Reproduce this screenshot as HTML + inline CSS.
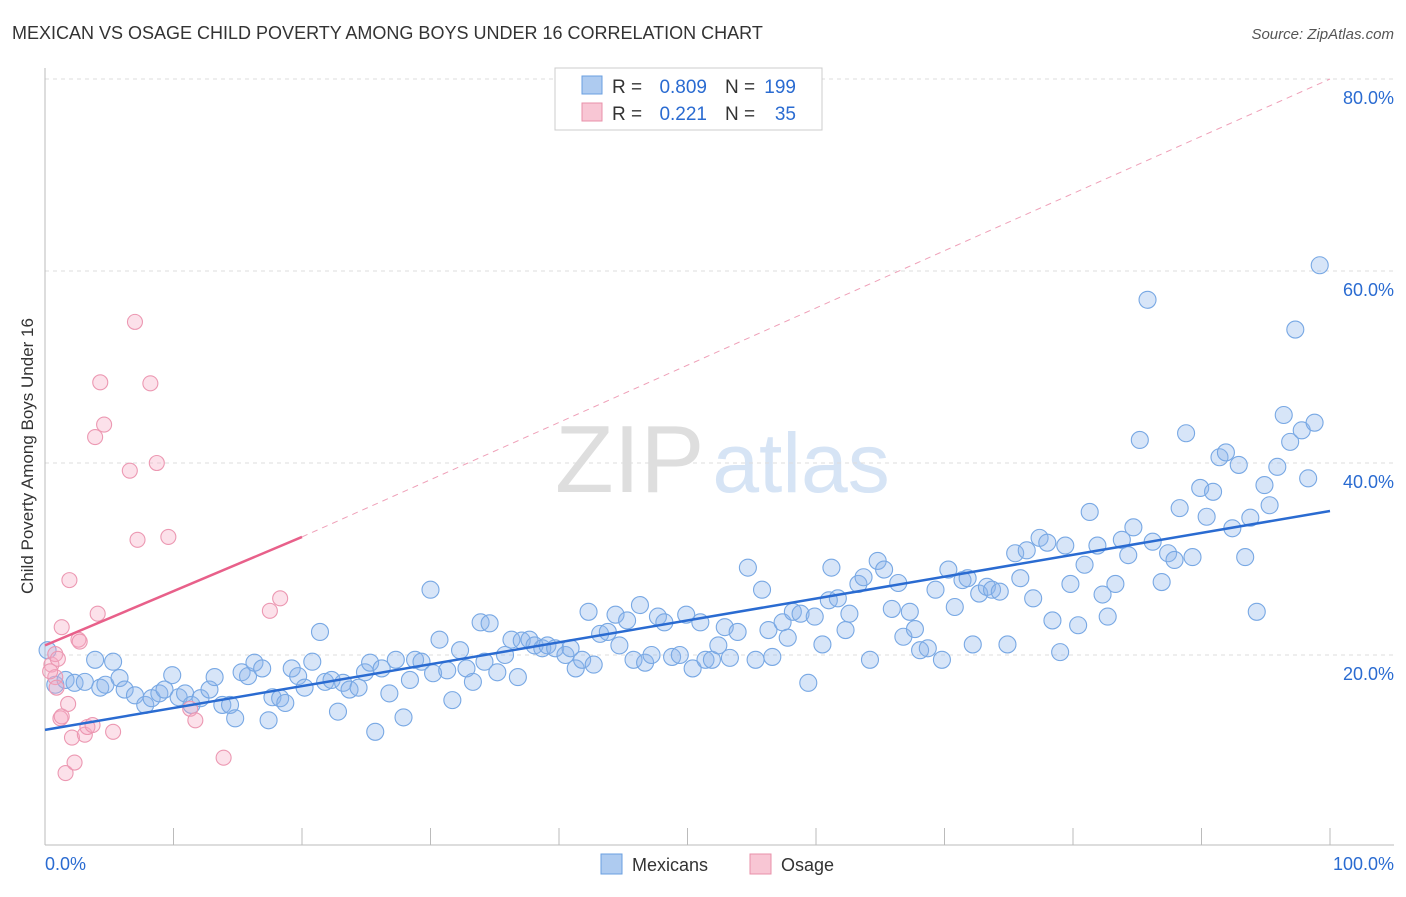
<!DOCTYPE html>
<html><head><meta charset="utf-8">
<style>
body{margin:0;background:#fff;font-family:"Liberation Sans",sans-serif;}
svg text{font-family:"Liberation Sans",sans-serif;}
</style></head>
<body>
<svg id="chart" width="1406" height="892" xmlns="http://www.w3.org/2000/svg">
<text x="12" y="39" font-size="18" fill="#333">MEXICAN VS OSAGE CHILD POVERTY AMONG BOYS UNDER 16 CORRELATION CHART</text>
<text x="1394" y="39" font-size="15" fill="#555" text-anchor="end" font-style="italic">Source: ZipAtlas.com</text>
<text x="555" y="492" font-size="96" fill="#e4e4e4" font-family="Liberation Serif"><tspan fill="#dedede">ZIP</tspan><tspan fill="#d6e4f5" font-family="Liberation Sans" font-size="84" dx="8">atlas</tspan></text>
<g id="grid"></g>
<g id="axes"></g>
<text transform="translate(33,456) rotate(-90)" font-size="17" fill="#333" text-anchor="middle">Child Poverty Among Boys Under 16</text>
<g id="marks"></g>
<g>
<rect x="555" y="68" width="267" height="62" fill="#fff" stroke="#ccc"/>
<rect x="582" y="76" width="20" height="18" fill="#aecbf0" stroke="#6a9fe0"/>
<rect x="582" y="103" width="20" height="18" fill="#f8c6d4" stroke="#e890aa"/>
<text x="612" y="93" font-size="19" fill="#333">R =</text>
<text x="707" y="93" font-size="19" fill="#2a6bd1" text-anchor="end">0.809</text>
<text x="725" y="93" font-size="19" fill="#333">N =</text>
<text x="796" y="93" font-size="19" fill="#2a6bd1" text-anchor="end">199</text>
<text x="612" y="120" font-size="19" fill="#333">R =</text>
<text x="707" y="120" font-size="19" fill="#2a6bd1" text-anchor="end">0.221</text>
<text x="725" y="120" font-size="19" fill="#333">N =</text>
<text x="796" y="120" font-size="19" fill="#2a6bd1" text-anchor="end">35</text>
</g>
<g>
<rect x="601" y="854" width="21" height="20" fill="#aecbf0" stroke="#6a9fe0"/>
<text x="632" y="871" font-size="18" fill="#333">Mexicans</text>
<rect x="750" y="854" width="21" height="20" fill="#f8c6d4" stroke="#e890aa"/>
<text x="781" y="871" font-size="18" fill="#333">Osage</text>
</g>
</svg>
<script>
const yTicks=[20,40,60,80];
const yTickLabels=["20.0%","40.0%","60.0%","80.0%"];
const xTicks=[0,10,20,30,40,50,60,70,80,90,100];
const xLabels=["0.0%","100.0%"];
const mexX=[0.2,0.8,1.6,2.3,3.1,3.9,4.3,4.7,5.3,5.8,6.2,7.0,7.8,8.3,8.9,9.3,9.9,10.4,10.9,11.4,12.1,12.8,13.2,13.8,14.4,14.8,15.3,15.8,16.3,16.9,17.4,17.7,18.3,18.7,19.2,19.7,20.2,20.8,21.4,21.8,22.3,22.8,23.2,23.7,24.4,24.9,25.3,25.7,26.2,26.8,27.3,27.9,28.4,28.8,29.3,30.0,30.2,30.7,31.3,31.7,32.3,32.8,33.3,33.9,34.2,34.6,35.2,35.8,36.3,36.8,37.1,37.7,38.1,38.7,39.1,39.7,40.5,40.9,41.3,41.8,42.3,42.7,43.2,43.8,44.4,44.7,45.3,45.8,46.3,46.7,47.2,47.7,48.2,48.8,49.4,49.9,50.4,51.0,51.4,51.9,52.4,52.9,53.3,53.9,54.7,55.3,55.8,56.3,56.6,57.4,57.8,58.2,58.8,59.4,59.9,60.5,61.0,61.2,61.7,62.3,62.6,63.3,63.7,64.2,64.8,65.3,65.9,66.4,66.8,67.3,67.7,68.1,68.7,69.3,69.8,70.3,70.8,71.4,71.8,72.2,72.7,73.3,73.7,74.3,74.9,75.5,75.9,76.4,76.9,77.4,78.0,78.4,79.0,79.4,79.8,80.4,80.9,81.3,81.9,82.3,82.7,83.3,83.8,84.3,84.7,85.2,85.8,86.2,86.9,87.4,87.9,88.3,88.8,89.3,89.9,90.4,90.9,91.4,91.9,92.4,92.9,93.4,93.8,94.3,94.9,95.3,95.9,96.4,96.9,97.3,97.8,98.3,98.8,99.2];
const mexY=[20.5,16.9,17.4,17.1,17.2,19.5,16.6,16.9,19.3,17.6,16.4,15.8,14.8,15.5,16.0,16.4,17.9,15.6,16.0,14.8,15.5,16.4,17.7,14.8,14.8,13.4,18.2,17.8,19.2,18.6,13.2,15.6,15.5,15.0,18.6,17.8,16.6,19.3,22.4,17.2,17.4,14.1,17.1,16.4,16.6,18.2,19.2,12.0,18.6,16.0,19.5,13.5,17.4,19.5,19.3,26.8,18.1,21.6,18.4,15.3,20.5,18.6,17.2,23.4,19.3,23.3,18.2,20.0,21.6,17.7,21.5,21.6,21.0,20.7,21.0,20.7,20.0,20.7,18.6,19.5,24.5,19.0,22.2,22.4,24.2,21.0,23.6,19.5,25.2,19.2,20.0,24.0,23.4,19.8,20.0,24.2,18.6,23.4,19.5,19.5,21.0,22.9,19.7,22.4,29.1,19.5,26.8,22.6,19.8,23.4,21.8,24.5,24.3,17.1,24.0,21.1,25.7,29.1,25.9,22.6,24.3,27.4,28.1,19.5,29.8,28.9,24.8,27.5,21.9,24.5,22.7,20.5,20.7,26.8,19.5,28.9,25.0,27.8,28.0,21.1,26.4,27.1,26.8,26.6,21.1,30.6,28.0,30.9,25.9,32.2,31.7,23.6,20.3,31.4,27.4,23.1,29.4,34.9,31.4,26.3,24.0,27.4,32.0,30.4,33.3,42.4,57.0,31.8,27.6,30.6,29.9,35.3,43.1,30.2,37.4,34.4,37.0,40.6,41.1,33.2,39.8,30.2,34.3,24.5,37.7,35.6,39.6,45.0,42.2,53.9,43.4,38.4,44.2,60.6];
const osaX=[0.5,0.8,0.9,1.2,1.3,1.6,1.8,1.9,2.1,2.3,2.6,2.7,3.1,3.3,3.7,3.9,4.1,4.3,4.6,5.3,6.6,7.0,7.2,8.2,8.7,9.6,11.3,11.7,13.9,17.5,18.3,0.8,1.0,0.4,1.3];
const osaY=[19.0,17.7,16.6,13.4,13.6,7.7,14.9,27.8,11.4,8.8,21.6,21.4,11.7,12.5,12.7,42.7,24.3,48.4,44.0,12.0,39.2,54.7,32.0,48.3,40.0,32.3,14.4,13.2,9.3,24.6,25.9,20.1,19.6,18.3,22.9];
const mexLine=[12.2,35.0];
const osaLine=[21.0,32.3];
const osaDash=[32.3,80.0];

const X=v=>45+v*12.85;
const Y=v=>847-v*9.6;
const NS="http://www.w3.org/2000/svg";
function mk(tag,attrs,parent){const e=document.createElementNS(NS,tag);for(const k in attrs)e.setAttribute(k,attrs[k]);parent.appendChild(e);return e;}
const grid=document.getElementById('grid'),axes=document.getElementById('axes'),marks=document.getElementById('marks');
yTicks.forEach((t,i)=>{
 const l=mk('line',{x1:45,x2:1394,y1:Y(t),y2:Y(t),stroke:'#ddd','stroke-dasharray':'4,4'},grid);
 
 
 const tx=mk('text',{x:1394,y:Y(t)+25,'font-size':18,fill:'#2a6bd1','text-anchor':'end'},axes);
 tx.textContent=yTickLabels[i];
 
 
});
const xa=mk('line',{x1:45,x2:1394,y1:845,y2:845,stroke:'#bbb'},axes);


const ya=mk('line',{x1:45,x2:45,y1:68,y2:845,stroke:'#bbb'},axes);


xTicks.forEach(t=>{
 const l=mk('line',{x1:X(t),x2:X(t),y1:828,y2:845,stroke:'#bbb'},axes);
 
 
});
const xl0=mk('text',{x:45,y:870,'font-size':18,fill:'#2a6bd1'},axes);xl0.textContent=xLabels[0];


const xl1=mk('text',{x:1394,y:870,'font-size':18,fill:'#2a6bd1','text-anchor':'end'},axes);xl1.textContent=xLabels[1];



mexX.forEach((x,i)=>{
 const c=mk('circle',{cx:X(x),cy:Y(mexY[i]),r:8.5,fill:'rgba(140,180,235,0.35)',stroke:'#78a8e4','stroke-width':1.1},marks);
 
 
});
osaX.forEach((x,i)=>{
 const c=mk('circle',{cx:X(x),cy:Y(osaY[i]),r:7.5,fill:'rgba(245,170,195,0.35)',stroke:'#ec98b2','stroke-width':1.1},marks);
 
 
});
const d=mk('line',{x1:X(20),y1:Y(osaDash[0]),x2:X(100),y2:Y(osaDash[1]),stroke:'#efa0b8','stroke-dasharray':'6,5','stroke-width':1},marks);


const ml=mk('line',{x1:X(0),y1:Y(mexLine[0]),x2:X(100),y2:Y(mexLine[1]),stroke:'#2a6bd1','stroke-width':2.5},marks);


const ol=mk('line',{x1:X(0),y1:Y(osaLine[0]),x2:X(20),y2:Y(osaLine[1]),stroke:'#e8608a','stroke-width':2.5},marks);


</script>
</body></html>
